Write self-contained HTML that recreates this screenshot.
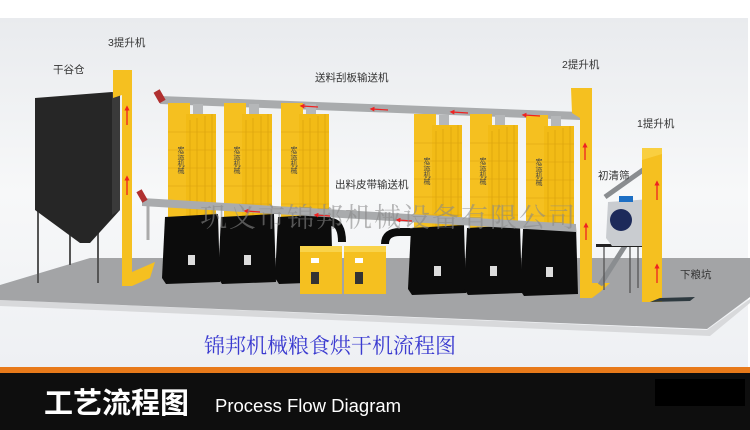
<!DOCTYPE html>
<html><head><meta charset="utf-8"><style>
html,body{margin:0;padding:0;width:750px;height:430px;overflow:hidden;background:#fff}
svg{display:block}
.l{font-family:"Liberation Sans","Noto Sans CJK SC",sans-serif;font-size:10.5px;fill:#333}
</style></head><body>
<svg width="750" height="430" viewBox="0 0 750 430" xmlns="http://www.w3.org/2000/svg">
<defs>
<linearGradient id="bg" x1="0" y1="0" x2="0" y2="1"><stop offset="0" stop-color="#e9ebee"/><stop offset="0.5" stop-color="#f7f8f9"/><stop offset="1" stop-color="#eef0f3"/></linearGradient>
<marker id="a" viewBox="0 0 10 10" refX="5" refY="5" markerWidth="4" markerHeight="4" orient="auto"><path d="M0,0L10,5L0,10z" fill="#e22"/></marker>
</defs>
<rect x="0" y="0" width="750" height="18" fill="#fff"/>
<rect x="0" y="18" width="748" height="350" fill="url(#bg)"/>
<!-- floor -->
<polygon points="0,300 707,330 750,299 750,303 710,336 0,306" fill="#d8d9db"/>
<polygon points="0,285 90,258 750,258 750,297 707,329 0,300" fill="#a3a4a6"/>
<!-- silo -->
<g stroke="#555" stroke-width="2"><line x1="38" y1="200" x2="38" y2="283"/><line x1="70" y1="215" x2="70" y2="265"/><line x1="98" y1="215" x2="98" y2="283"/></g>
<polygon points="35,98 112,92 120,95 120,210 90,243 80,243 35,210" fill="#262626"/>
<polygon points="112,92 120,95 120,210 112,215" fill="#3a3a3a"/>
<!-- elevator 3 -->
<polygon points="113,70 132,70 132,272 155,262 150,278 132,286 122,286 122,95 113,98" fill="#f5c020"/>
<line x1="127" y1="125" x2="127" y2="108" stroke="#e22" stroke-width="1.3" marker-end="url(#a)"/>
<line x1="127" y1="195" x2="127" y2="178" stroke="#e22" stroke-width="1.3" marker-end="url(#a)"/>
<!-- top conveyor -->
<polygon points="160,96 580,112 580,120 160,104" fill="#a9abad"/>
<rect x="156" y="90" width="7" height="12" fill="#b03030" transform="rotate(-30 160 96)"/>
<!-- dryers -->
<g>
<g id="d">
<rect x="193" y="104" width="10" height="12" fill="#b5b7b9"/>
<rect x="168" y="103" width="22" height="116" fill="#f5c020"/>
<rect x="186" y="114" width="30" height="105" fill="#f2bb16"/>
<path d="M190,120v96M197,118v98M205,116v100M212,114v102" stroke="#d9a20e" stroke-width="0.7"/>
<path d="M168,132h48M168,150h48M168,168h48M168,186h48M168,204h48" stroke="#d9a20e" stroke-width="0.6"/>
<text x="181" y="146" font-size="7" fill="#444" font-family="Noto Sans CJK SC,sans-serif" writing-mode="tb">宏运机械</text>
<polygon points="165,217 218,214 220,282 166,284 162,278" fill="#0c0c0c"/>
<rect x="188" y="255" width="7" height="10" fill="#ddd"/>
</g>
<use href="#d" x="56"/>
<use href="#d" x="113"/>
<use href="#d" x="246" y="11"/>
<use href="#d" x="302" y="11"/>
<use href="#d" x="358" y="12"/>
</g>
<!-- ducts -->
<path d="M330,222 q12,0 12,20" stroke="#0c0c0c" stroke-width="8" fill="none"/>
<path d="M385,244 q0,-12 15,-12 h15" stroke="#0c0c0c" stroke-width="8" fill="none"/>
<!-- lower conveyor -->
<polygon points="142,198 576,224 576,232 142,206" fill="#a9abad"/>
<line x1="148" y1="205" x2="148" y2="240" stroke="#aaa" stroke-width="3"/>
<rect x="139" y="190" width="6" height="12" fill="#b03030" transform="rotate(-30 142 196)"/>
<!-- red arrows on conveyors -->
<g stroke="#e22" stroke-width="1.2" marker-end="url(#a)">
<line x1="318" y1="107" x2="302" y2="106"/><line x1="388" y1="110" x2="372" y2="109"/>
<line x1="468" y1="113" x2="452" y2="112"/><line x1="540" y1="116" x2="524" y2="115"/>
<line x1="260" y1="212" x2="246" y2="211"/><line x1="330" y1="216" x2="316" y2="215"/><line x1="412" y1="221" x2="398" y2="220"/>
</g>
<!-- small boxes -->
<g><rect x="300" y="246" width="42" height="48" fill="#f5c020"/><rect x="300" y="246" width="42" height="6" fill="#f9d34a"/><rect x="311" y="272" width="8" height="12" fill="#333"/><rect x="311" y="258" width="8" height="5" fill="#fff"/></g>
<g><rect x="344" y="246" width="42" height="48" fill="#f5c020"/><rect x="344" y="246" width="42" height="6" fill="#f9d34a"/><rect x="355" y="272" width="8" height="12" fill="#333"/><rect x="355" y="258" width="8" height="5" fill="#fff"/></g>
<!-- watermark -->
<text x="200" y="227" font-family="Noto Serif CJK SC,Liberation Serif,serif" font-size="27" fill="#888" fill-opacity="0.6" letter-spacing="2">巩义市锦邦机械设备有限公司</text>
<!-- elevator 2 -->
<polygon points="571,88 592,88 592,283 610,283 600,292 592,298 580,298 580,118 572,113" fill="#f5c020"/>
<line x1="585" y1="160" x2="585" y2="145" stroke="#e22" stroke-width="1.3" marker-end="url(#a)"/>
<line x1="586" y1="240" x2="586" y2="225" stroke="#e22" stroke-width="1.3" marker-end="url(#a)"/>
<!-- cleaner -->
<line x1="605" y1="197" x2="650" y2="165" stroke="#8a8d90" stroke-width="5"/>
<line x1="600" y1="285" x2="630" y2="238" stroke="#8a8d90" stroke-width="5"/>
<g stroke="#555" stroke-width="1.3"><line x1="604" y1="247" x2="604" y2="290"/><line x1="630" y1="247" x2="630" y2="293"/><line x1="638" y1="247" x2="638" y2="288"/></g>
<rect x="596" y="244" width="62" height="3" fill="#222"/>
<polygon points="608,202 652,199 655,238 645,246 612,246 606,238" fill="#c9ccd0"/>
<rect x="619" y="196" width="14" height="6" fill="#1d6fc4"/>
<circle cx="621" cy="220" r="11" fill="#1d2a5a"/>
<!-- elevator 1 -->
<rect x="642" y="148" width="20" height="154" fill="#f5c020"/>
<polygon points="642,148 662,148 662,154 642,160" fill="#f9cf40"/>
<line x1="657" y1="200" x2="657" y2="183" stroke="#e22" stroke-width="1.3" marker-end="url(#a)"/>
<line x1="657" y1="283" x2="657" y2="266" stroke="#e22" stroke-width="1.3" marker-end="url(#a)"/>
<polygon points="650,302 690,301 695,297 660,298" fill="#2e3a40"/>
<!-- labels -->
<text class="l" x="108" y="46">3提升机</text>
<text class="l" x="53" y="73">干谷仓</text>
<text class="l" x="315" y="81">送料刮板输送机</text>
<text class="l" x="335" y="188">出料皮带输送机</text>
<text class="l" x="562" y="68">2提升机</text>
<text class="l" x="637" y="127">1提升机</text>
<text class="l" x="598" y="179">初清筛</text>
<text class="l" x="680" y="278">下粮坑</text>
<text x="204" y="353" font-family="Noto Serif CJK SC,Liberation Serif,serif" font-size="21" fill="#3a3ad0">锦邦机械粮食烘干机流程图</text>
<!-- footer -->
<rect x="0" y="367" width="750" height="6" fill="#e87a1a"/>
<rect x="0" y="373" width="750" height="57" fill="#0e0e0e"/>
<rect x="655" y="379" width="90" height="27" fill="#000"/>
<text x="44" y="413" font-family="Liberation Sans,Noto Sans CJK SC,sans-serif" font-weight="bold" font-size="29" fill="#fff">工艺流程图</text>
<text x="215" y="412" font-family="Liberation Sans,sans-serif" font-size="18.5" fill="#fff">Process Flow Diagram</text>
</svg>
</body></html>
